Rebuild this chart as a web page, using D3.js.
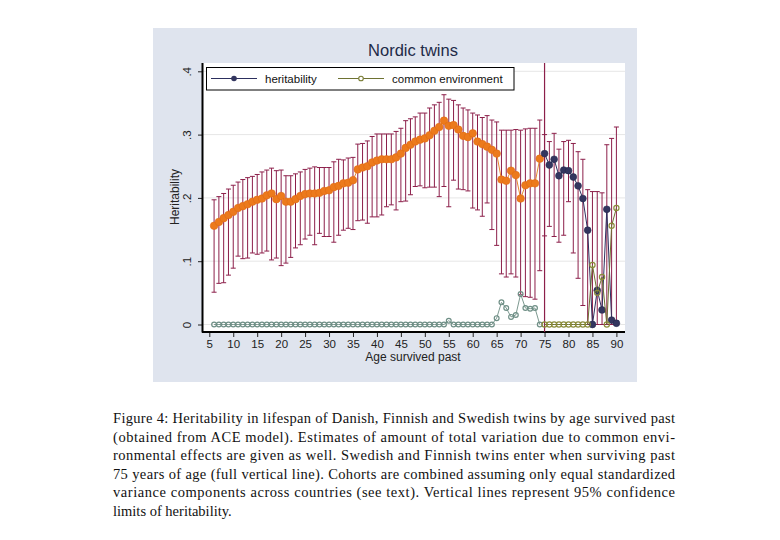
<!DOCTYPE html>
<html>
<head>
<meta charset="utf-8">
<script src="https://cdn.jsdelivr.net/npm/d3@7"></script>
<style>
  body { margin: 0; background: #fff; }
  svg { display: block; }
</style>
</head>
<body>
<svg id="chart" width="780" height="540"></svg>
<script>
// ages survived past
var ages = [6,7,8,9,10,11,12,13,14,15,16,17,18,19,20,21,22,23,24,25,26,27,28,29,30,
            31,32,33,34,35,36,37,38,39,40,41,42,43,44,45,46,47,48,49,50,51,52,53,54,55,
            56,57,58,59,60,61,62,63,64,65,66,67,68,69,70,71,72,73,74,75,76,77,78,79,80,
            81,82,83,84,85,86,87,88,89,90];

// heritability estimate
var her = [.156,.162,.168,.173,.178,.184,.187,.190,.194,.197,.199,.204,.207,.198,.203,.194,.194,.198,.203,.206,
           .207,.207,.208,.211,.212,.217,.219,.223,.224,.228,.245,.248,.250,.256,.259,.261,.261,.261,.264,.270,
           .279,.284,.289,.292,.294,.299,.306,.312,.322,.314,.315,.308,.298,.296,.302,.289,.285,.281,.276,.270,
           .229,.227,.243,.236,.199,.220,.223,.223,.262,.270,.252,.261,.235,.244,.243,.233,.219,.199,.149,.000,
           .054,.023,.182,.007,.002];

// 95% confidence limits of heritability
var herHi = [.197,.202,.207,.214,.220,.225,.229,.232,.234,.237,.241,.244,.247,.243,.244,.235,.235,.238,.241,.245,
             .247,.249,.248,.248,.248,.257,.261,.260,.263,.264,.285,.286,.290,.297,.301,.301,.301,.301,.305,.310,
             .322,.325,.328,.334,.334,.342,.347,.351,.363,.356,.354,.347,.342,.339,.334,.331,.327,.330,.323,.320,
             .307,.307,.307,.308,.307,.309,.310,.310,.323,.300,.289,.302,.277,.289,.291,.286,.273,.261,.213,.210,
             .210,.208,.284,.294,.312];
var herLo = [.051,.065,.066,.078,.089,.108,.104,.105,.113,.111,.113,.116,.102,.105,.093,.097,.106,.121,.126,.135,
             .141,.126,.144,.139,.139,.130,.141,.149,.152,.150,.164,.165,.160,.170,.170,.173,.186,.189,.181,.194,
             .195,.205,.218,.219,.216,.217,.217,.202,.218,.186,.228,.214,.213,.211,.184,.181,.171,.192,.150,.125,
             .080,.075,.080,.075,.047,.044,.043,.040,.085,.140,.155,.139,.130,.141,.194,.113,.073,.030,0,0,
             0,0,0,0,0];

// common environment
var ce = [0,0,0,0,0,0,0,0,0,0,0,0,0,0,0,0,0,0,0,0,
          0,0,0,0,0,0,0,0,0,0,0,0,0,0,0,0,0,0,0,0,
          0,0,0,0,0,0,0,0,0,.006,0,0,0,0,0,0,0,0,0,.010,
          .035,.026,.012,.015,.048,.026,.025,.026,0,0,0,0,0,0,0,0,0,0,0,.094,
          .050,.075,0,.156,.184];

var enterAge = 75;
var yTicks = [0, .1, .2, .3, .4];
var xTicks = [5,10,15,20,25,30,35,40,45,50,55,60,65,70,75,80,85,90];

var caption = [
  "Figure 4:  Heritability in lifespan of Danish, Finnish and Swedish twins by age survived past",
  "(obtained from ACE model). Estimates of amount of total variation due to common envi-",
  "ronmental effects are given as well. Swedish and Finnish twins enter when surviving past",
  "75 years of age (full vertical line). Cohorts are combined assuming only equal standardized",
  "variance components across countries (see text).  Vertical lines represent 95% confidence",
  "limits of heritability."
];

var svg = d3.select("#chart");
var x = d3.scaleLinear().domain([5, 90]).range([209.3, 616.4]);
var y = d3.scaleLinear().domain([0, .4]).range([324.5, 71.3]);

var rows = ages.map(function(a, i){
    return {age: a, h: her[i], hi: herHi[i], lo: herLo[i], c: ce[i]};
});
var early = rows.filter(function(d){ return d.age < enterAge; });
var late = rows.filter(function(d){ return d.age >= enterAge; });

// graph region and plot region
svg.append("rect").attr("x", 153).attr("y", 28).attr("width", 484).attr("height", 354)
    .style("fill", "#dfe4ee");
svg.append("rect").attr("x", 203).attr("y", 63).attr("width", 422).attr("height", 269)
    .style("fill", "#fff");

svg.append("text").attr("x", 413).attr("y", 56).attr("text-anchor", "middle")
    .style("font-family", "Liberation Sans, Arial, sans-serif").style("font-size", "16.5px")
    .style("fill", "#1e2b48").text("Nordic twins");

// grid
svg.append("g").selectAll("line").data(yTicks).enter().append("line")
    .attr("x1", 203).attr("x2", 625)
    .attr("y1", function(d){ return y(d); }).attr("y2", function(d){ return y(d); })
    .style("stroke", "#e6e6e6").style("stroke-width", 1);

// axes
var yAxis = svg.append("g").attr("transform", "translate(203,0)")
    .call(d3.axisLeft(y).tickValues(yTicks).tickSize(5)
        .tickFormat(function(d){ return d === 0 ? "0" : d3.format(".1f")(d).replace(/^0/, ""); }));
yAxis.select(".domain").remove();
yAxis.selectAll("text").attr("transform", "rotate(-90)")
    .attr("x", 0).attr("y", -12).attr("dy", null).attr("text-anchor", "middle");

var xAxis = svg.append("g").attr("transform", "translate(0,332)")
    .call(d3.axisBottom(x).tickValues(xTicks).tickSize(5).tickPadding(3));
xAxis.select(".domain").remove();

svg.selectAll(".tick text").style("font-family", "Liberation Sans, Arial, sans-serif")
    .style("font-size", "11.5px").style("fill", "#222");
svg.selectAll(".tick line").style("stroke", "#222");

svg.append("line").attr("x1", 202.5).attr("x2", 202.5).attr("y1", 63).attr("y2", 332.5)
    .style("stroke", "#000").style("stroke-width", 2);
svg.append("line").attr("x1", 202).attr("x2", 625).attr("y1", 332).attr("y2", 332)
    .style("stroke", "#000").style("stroke-width", 2);

svg.append("text").attr("x", 413).attr("y", 361).attr("text-anchor", "middle")
    .style("font-family", "Liberation Sans, Arial, sans-serif").style("font-size", "12px")
    .style("fill", "#222").text("Age survived past");
svg.append("text").attr("transform", "translate(179,197) rotate(-90)").attr("text-anchor", "middle")
    .style("font-family", "Liberation Sans, Arial, sans-serif").style("font-size", "12px")
    .style("fill", "#222").text("Heritability");

// confidence limits (rcap)
var barColor = "#8c1f4a";
var bars = svg.append("g").style("stroke", barColor).style("stroke-width", 1);
bars.selectAll("line.v").data(rows).enter().append("line").attr("class", "v")
    .attr("x1", function(d){ return x(d.age); }).attr("x2", function(d){ return x(d.age); })
    .attr("y1", function(d){ return y(d.hi); }).attr("y2", function(d){ return y(d.lo); });
bars.selectAll("line.t").data(rows).enter().append("line").attr("class", "t")
    .attr("x1", function(d){ return x(d.age) - 2.5; }).attr("x2", function(d){ return x(d.age) + 2.5; })
    .attr("y1", function(d){ return y(d.hi); }).attr("y2", function(d){ return y(d.hi); });
bars.selectAll("line.b").data(rows).enter().append("line").attr("class", "b")
    .attr("x1", function(d){ return x(d.age) - 2.5; }).attr("x2", function(d){ return x(d.age) + 2.5; })
    .attr("y1", function(d){ return y(d.lo); }).attr("y2", function(d){ return y(d.lo); });

// full vertical line at entry age
svg.append("line").attr("x1", x(enterAge)).attr("x2", x(enterAge)).attr("y1", 63).attr("y2", 332)
    .style("stroke", barColor).style("stroke-width", 1.2);

var lineH = d3.line().x(function(d){ return x(d.age); }).y(function(d){ return y(d.h); });
var lineC = d3.line().x(function(d){ return x(d.age); }).y(function(d){ return y(d.c); });

function series(data, line, lineColor, dotFill, dotStroke, r, hollow){
    svg.append("path").datum(data).attr("d", line)
        .style("fill", "none").style("stroke", lineColor).style("stroke-width", 1);
    svg.append("g").selectAll("circle").data(data).enter().append("circle")
        .attr("cx", function(d){ return x(d.age); })
        .attr("cy", line === lineH ? function(d){ return y(d.h); } : function(d){ return y(d.c); })
        .attr("r", r)
        .style("fill", hollow ? "#fff" : dotFill)
        .style("fill-opacity", hollow ? 0 : 1)
        .style("stroke", dotStroke).style("stroke-width", hollow ? 1.2 : 0.6);
}

series(early, lineC, "#7d9990", null, "#6f8f86", 2.4, true);
series(early, lineH, "#e8892e", "#ec7a1c", "#e06a12", 3.8, false);
series(late, lineH, "#2c2f5e", "#33365f", "#26284f", 3.4, false);
series(late, lineC, "#6e7232", null, "#8a8c3a", 2.6, true);

// legend
var lg = svg.append("g");
lg.append("rect").attr("x", 206.5).attr("y", 67.5).attr("width", 307.5).attr("height", 22.5)
    .style("fill", "#fff").style("stroke", "#000").style("stroke-width", 1);
lg.append("line").attr("x1", 211).attr("x2", 257).attr("y1", 78.5).attr("y2", 78.5)
    .style("stroke", "#2c2f5e");
lg.append("circle").attr("cx", 234).attr("cy", 78.5).attr("r", 2.8).style("fill", "#33365f");
lg.append("line").attr("x1", 338).attr("x2", 384).attr("y1", 78.5).attr("y2", 78.5)
    .style("stroke", "#6e7232");
lg.append("circle").attr("cx", 361).attr("cy", 78.5).attr("r", 2.3).style("fill", "#fff")
    .style("stroke", "#7a7d36").style("stroke-width", 1.1);
lg.selectAll("text").data(["heritability", "common environment"]).enter().append("text")
    .attr("x", function(d, i){ return i === 0 ? 265 : 392; }).attr("y", 82.5)
    .style("font-family", "Liberation Sans, Arial, sans-serif").style("font-size", "11.5px")
    .style("fill", "#111").text(function(d){ return d; });

// caption
svg.append("g").selectAll("text").data(caption).enter().append("text")
    .attr("x", 113).attr("y", function(d, i){ return 423 + i * 18.6; })
    .attr("textLength", function(d, i){ return i < caption.length - 1 ? 562 : null; })
    .attr("lengthAdjust", "spacing")
    .style("font-family", "Liberation Serif, Times New Roman, serif").style("font-size", "14.5px")
    .style("fill", "#111").text(function(d){ return d; });
</script>
</body>
</html>
